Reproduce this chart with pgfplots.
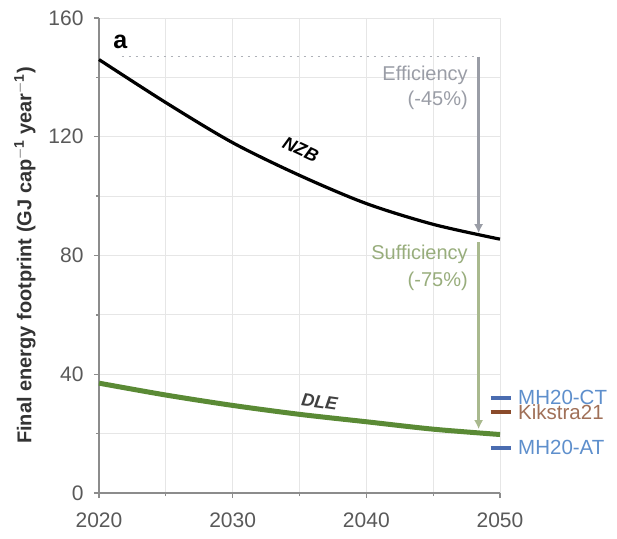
\documentclass[border=0pt]{standalone}
\usepackage{pgfplots}
\pgfplotsset{compat=1.18}
\usetikzlibrary{arrows.meta}
\usepackage{fontspec}
\setmainfont{Liberation Sans}
\setsansfont{Liberation Sans}
\definecolor{axgrey}{HTML}{8C8C8C}
\definecolor{gridgrey}{HTML}{E6E6E6}
\definecolor{dlegreen}{HTML}{5A8A35}
\definecolor{effgrey}{HTML}{9A9DA6}
\definecolor{suffgreen}{HTML}{A9B98E}
\definecolor{sufftext}{HTML}{98AD7C}
\definecolor{mhblue}{HTML}{4A6CB0}
\definecolor{mhtext}{HTML}{5E8FCC}
\definecolor{kikbrown}{HTML}{8A4A2A}
\definecolor{kiktext}{HTML}{A07058}
\begin{document}
\begin{tikzpicture}
\begin{axis}[
  scale only axis, width=401pt, height=475pt,
  xmin=2020, xmax=2050, ymin=0, ymax=160,
  axis lines=left, axis line style={axgrey, line width=1.3pt, -},
  xtick={2020,2030,2040,2050}, minor xtick={2025,2035,2045},
  ytick={0,40,80,120,160}, minor ytick={20,60,100,140},
  grid=both, major grid style={gridgrey, line width=0.8pt}, minor grid style={gridgrey, line width=0.8pt},
  tick style={axgrey, line width=1.3pt}, tick align=outside,
  major tick length=5pt, minor tick length=3pt,
  ticklabel style={font=\fontsize{21}{24}\selectfont, text=black!65},
  xticklabel style={yshift=-11pt},
  yticklabel style={xshift=-7pt},
  /pgf/number format/assume math mode=true,
  /pgf/number format/1000 sep={},
  ylabel={\textbf{Final energy footprint (GJ cap$^{\mathbf{-1}}$ year$^{\mathbf{-1}}$)}},
  ylabel style={font=\fontsize{20}{23}\selectfont, text=black!80, yshift=6pt},
  clip=false,
]
% dotted reference line
\addplot[effgrey!80, dash pattern=on 2.5pt off 4.5pt, line width=1.2pt] coordinates {(2021.7,147) (2048.2,147)};
% NZB
\addplot[black, line width=3.2pt, smooth] coordinates {
(2020,146) (2025,131.5) (2030,118) (2035,107) (2040,97.5) (2045,90.5) (2050,85.5)};
% DLE
\addplot[dlegreen, line width=5pt, smooth] coordinates {
(2020,37) (2025,33) (2030,29.5) (2035,26.5) (2040,24) (2045,21.5) (2050,19.7)};
% efficiency arrow
\addplot[effgrey, line width=2.6pt, -{Latex[length=9pt,width=9pt]}] coordinates {(2048.4,147) (2048.4,87.5)};
% sufficiency arrow
\addplot[suffgreen, line width=2.6pt, -{Latex[length=9pt,width=9pt]}] coordinates {(2048.4,84.5) (2048.4,21.5)};
% literature markers
\addplot[mhblue, line width=3.5pt] coordinates {(2049.3,32) (2050.8,32)};
\addplot[kikbrown, line width=3.5pt] coordinates {(2049.3,27.3) (2050.8,27.3)};
\addplot[mhblue, line width=3.5pt] coordinates {(2049.3,15.2) (2050.8,15.2)};
% labels
\node[font=\fontsize{20.5}{23}\selectfont, text=mhtext, anchor=west, inner sep=0pt] at (axis cs:2051.35,32.3) {MH20-CT};
\node[font=\fontsize{20.5}{23}\selectfont, text=kiktext, anchor=west, inner sep=0pt] at (axis cs:2051.35,27.3) {Kikstra21};
\node[font=\fontsize{20.5}{23}\selectfont, text=mhtext, anchor=west, inner sep=0pt] at (axis cs:2051.35,15.2) {MH20-AT};
\node[font=\bfseries\fontsize{25}{27}\selectfont, anchor=center] at (axis cs:2021.6,151.8) {a};
\node[font=\fontsize{20}{25}\selectfont, text=effgrey, align=right, anchor=east, inner sep=0pt] at (axis cs:2047.6,136.5) {Efficiency\\(-45\%)};
\node[font=\fontsize{20}{27}\selectfont, text=sufftext, align=right, anchor=east, inner sep=0pt] at (axis cs:2047.6,76) {Sufficiency\\(-75\%)};
\node[font=\bfseries\itshape\fontsize{18}{20}\selectfont, rotate=-25, inner sep=0pt] at (axis cs:2035.1,115.8) {NZB};
\node[font=\bfseries\itshape\fontsize{18}{20}\selectfont, text=black!75, rotate=-8, inner sep=0pt] at (axis cs:2036.5,30.8) {DLE};
\end{axis}
\path (current axis.south west) ++(-99pt,-45pt) rectangle ++(617pt,538pt);
\end{tikzpicture}
\end{document}
